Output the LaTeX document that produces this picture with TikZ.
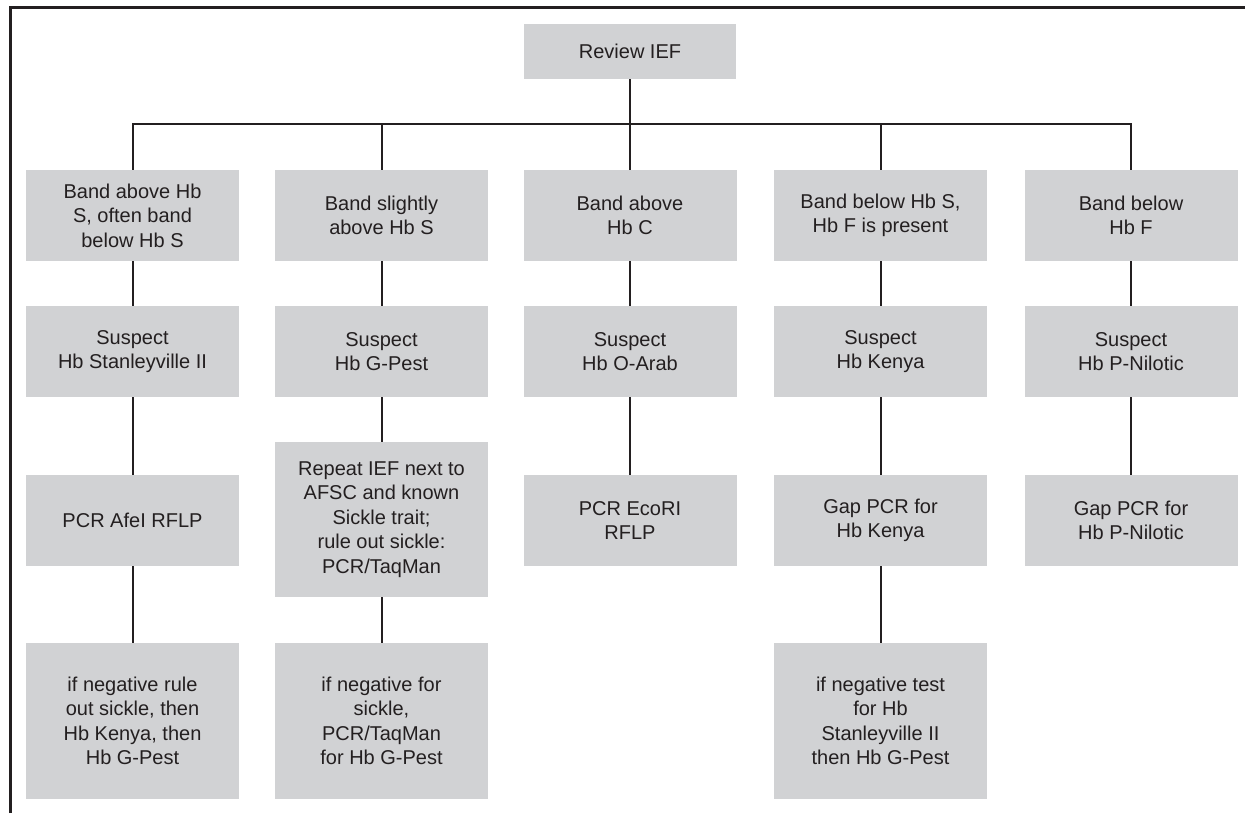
\documentclass[tikz,border=0pt]{standalone}
\usepackage{fontspec}
\setmainfont{Liberation Sans}
\usetikzlibrary{positioning}
\definecolor{boxgray}{HTML}{D1D2D4}
\definecolor{ink}{HTML}{231F20}
\tikzset{
  stepbox/.style={fill=boxgray, text=ink, align=center, inner sep=0pt,
    minimum width=106.5pt, minimum height=45.5pt,
    font=\fontsize{10}{12.25}\selectfont},
  tallbox/.style={stepbox, minimum height=78pt},
  link/.style={draw=ink, line width=1pt},
}

\begin{document}
\begin{tikzpicture}[x=0.5pt, y=-0.5pt]
        \useasboundingbox (0,0) rectangle (1245,813);
        \draw [ink, line width=1.5pt] (10.5,813) -- (10.5,7.5) -- (1245,7.5);

        \node [stepbox, minimum width=106pt, minimum height=27.5pt] (rev) at (630, 51.5) {Review IEF};
        \coordinate (bus) at (630, 123.5);

        \node [stepbox] (band1) at (132.5, 215.5) {Band above Hb\\S, often band\\below Hb S};
        \node [stepbox] (band2) at (381.5, 215.5) {Band slightly\\above Hb S};
        \node [stepbox] (band3) at (630, 215.5) {Band above\\Hb C};
        \node [stepbox] (band4) at (880.5, 215.5) {Band below Hb S,\\Hb F is present};
        \node [stepbox] (band5) at (1131, 215.5) {Band below\\Hb F};

        \node [stepbox] (susp1) at (132.5, 351.5) {Suspect\\Hb Stanleyville II};
        \node [stepbox] (susp2) at (381.5, 351.5) {Suspect\\Hb G-Pest};
        \node [stepbox] (susp3) at (630, 351.5) {Suspect\\Hb O-Arab};
        \node [stepbox] (susp4) at (880.5, 351.5) {Suspect\\Hb Kenya};
        \node [stepbox] (susp5) at (1131, 351.5) {Suspect\\Hb P-Nilotic};

        \node [stepbox] (test1) at (132.5, 520.5) {PCR AfeI RFLP};
        \node [tallbox, minimum height=77.5pt] (test2) at (381.5, 519.5) {Repeat IEF next to\\AFSC and known\\Sickle trait;\\rule out sickle:\\PCR/TaqMan};
        \node [stepbox] (test3) at (630, 520.5) {PCR EcoRI\\RFLP};
        \node [stepbox] (test4) at (880.5, 520.5) {Gap PCR for\\Hb Kenya};
        \node [stepbox] (test5) at (1131, 520.5) {Gap PCR for\\Hb P-Nilotic};

        \node [tallbox] (neg1) at (132.5, 721) {if negative rule\\out sickle, then\\Hb Kenya, then\\Hb G-Pest};
        \node [tallbox] (neg2) at (381.5, 721) {if negative for\\sickle,\\PCR/TaqMan\\for Hb G-Pest};
        \node [tallbox] (neg4) at (880.5, 721) {if negative test\\for Hb\\Stanleyville II\\then Hb G-Pest};

        % tree from the top box
        \draw [link] (rev) -- (band3);
        \draw [link] (band1) |- (bus) -| (band5);
        \draw [link] (band2) -- (band2 |- bus);
        \draw [link] (band4) -- (band4 |- bus);

        % columns
        \foreach \i in {1,...,5} {
            \draw [link] (band\i) -- (susp\i);
            \draw [link] (susp\i) -- (test\i);
        }
        \foreach \i in {1,2,4}
            \draw [link] (test\i) -- (neg\i);
\end{tikzpicture}
\end{document}
